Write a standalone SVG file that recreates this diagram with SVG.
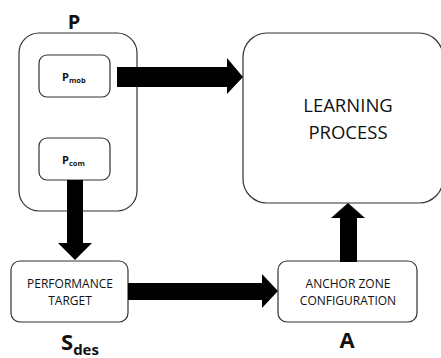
<svg xmlns="http://www.w3.org/2000/svg" width="441" height="358" viewBox="0 0 441 358">
<style>
.box{fill:#fff;stroke:#333;stroke-width:1.2}
.arr{fill:#000}
text{font-family:"Open Sans","Liberation Sans",sans-serif;fill:#111}
.lbl{font-weight:bold;text-anchor:middle}
.t{text-anchor:middle}
</style>
<rect width="441" height="358" fill="#fff"/>
<g id="P">
<rect class="box" x="19" y="33" width="118" height="178" rx="20"/>
<text class="lbl" x="74" y="29" font-size="20">P</text>
</g>
<g id="Pmob">
<rect class="box" x="39" y="55" width="71" height="42" rx="8"/>
<text x="62" y="81" font-size="11" font-weight="bold">P<tspan font-size="7.5" dy="2">mob</tspan></text>
</g>
<g id="Pcom">
<rect class="box" x="39" y="138" width="71" height="42" rx="8"/>
<text x="62" y="164" font-size="11" font-weight="bold">P<tspan font-size="7.5" dy="2">com</tspan></text>
</g>
<g id="learning">
<rect class="box" x="243" y="33" width="200" height="170" rx="24"/>
<text class="t" x="348" y="112" font-size="18.5">LEARNING</text>
<text class="t" x="348" y="139" font-size="18.5">PROCESS</text>
</g>
<g id="perf">
<rect class="box" x="11" y="261" width="117" height="61" rx="9"/>
<text class="t" x="70" y="288" font-size="12">PERFORMANCE</text>
<text class="t" x="70" y="305" font-size="12">TARGET</text>
<text x="61" y="350" font-size="22" font-weight="bold">S<tspan font-size="15" dy="5">des</tspan></text>
</g>
<g id="anchor">
<rect class="box" x="278" y="261" width="139" height="61" rx="9"/>
<text class="t" x="348" y="288" font-size="12">ANCHOR ZONE</text>
<text class="t" x="348" y="305" font-size="12">CONFIGURATION</text>
<text class="lbl" x="347" y="348" font-size="22">A</text>
</g>
<g id="connectors">
<polygon class="arr" points="117,67 227,67 227,58 243,77 227,94 227,87 117,87"/>
<polygon class="arr" points="67,180 83,180 83,243 92,243 75,260 58,243 67,243"/>
<polygon class="arr" points="128,283 262,283 262,274 278,291 262,308 262,300 128,300"/>
<polygon class="arr" points="340,262 357,262 357,218 365,218 348,203 331,218 340,218"/>
</g>
</svg>
